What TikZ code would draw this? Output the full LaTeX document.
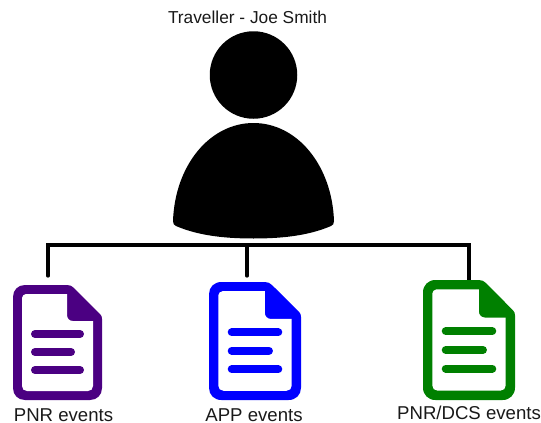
\documentclass[tikz,border=0pt]{standalone}
\usepackage{fontspec}
\setmainfont{Liberation Sans}
\definecolor{docpurple}{HTML}{4B0082}
\definecolor{docblue}{HTML}{0000FF}
\definecolor{docgreen}{HTML}{008000}
\tikzset{
  label text/.style={font=\fontsize{18.6pt}{20pt}\selectfont, text=black!90, inner sep=0pt, anchor=base},
  title text/.style={font=\fontsize{17.3pt}{20pt}\selectfont, text=black!90, inner sep=0pt, anchor=center},
  bus line/.style={draw=black, line width=3.3pt, line cap=round, line join=miter},
  doc row/.style={line width=8pt, line cap=round},
  silhouette/.style={fill=black, draw=none}
}
% #1 left, #2 top, #3 right, #4 bottom, #5 colour
\newcommand{\docicon}[5]{%
  \pgfmathsetmacro{\W}{#3-#1}
  \pgfmathsetmacro{\H}{#4-#2}
  \begin{scope}[shift={(#1,#2)}, x={(\W pt/89,0pt)}, y={(0pt,-\H pt/115)}]
    \fill[#5] (12,0) -- (54,0)
      .. controls (57,0) and (59,1) .. (61,3) -- (87,29)
      .. controls (88.5,30.5) and (89,32) .. (89,34)
      -- (89,103) .. controls (89,110) and (84,115) .. (77,115)
      -- (12,115) .. controls (5,115) and (0,110) .. (0,103)
      -- (0,12) .. controls (0,5) and (5,0) .. (12,0) -- cycle;
    \fill[white] (13,9) -- (54,9) -- (54,30)
      .. controls (54,33.5) and (56.5,36) .. (60,36)
      -- (80,36) -- (80,101)
      .. controls (80,104) and (78,106) .. (75,106)
      -- (14,106) .. controls (11,106) and (9,104) .. (9,101)
      -- (9,13) .. controls (9,11) and (11,9) .. (13,9) -- cycle;
    \draw[doc row, #5] (22,49) -- (67,49);
    \draw[doc row, #5] (22,67) -- (58,67);
    \draw[doc row, #5] (22,85) -- (67,85);
  \end{scope}
}
\begin{document}
\begin{tikzpicture}[x=1pt,y=-1pt]
  \useasboundingbox (0,0) rectangle (541,423);
  \coordinate (pnrtop) at (48,276);
  \coordinate (apptop) at (247,276);
  \coordinate (dcstop) at (469,283);
  \coordinate (bus) at (247,245);
  \draw[bus line] (pnrtop) |- (bus) -| (dcstop);
  \draw[bus line] (apptop) -- (bus);
  % person
  \node[silhouette, circle, minimum size=87.5pt, inner sep=0pt] (head) at (253.5,75) {};
  \path[silhouette] (173,221)
    .. controls (175,165) and (210,123) .. (253.5,123)
    .. controls (297,123) and (332,165) .. (334,221)
    .. controls (334,224) and (333,225) .. (331,226)
    .. controls (310,235) and (285,238.5) .. (253.5,238.5)
    .. controls (222,238.5) and (197,235) .. (176,226)
    .. controls (174,225) and (173,224) .. (173,221) -- cycle;
  % documents
  \docicon{13}{285}{102}{400}{docpurple}
  \docicon{209}{282}{301}{400}{docblue}
  \docicon{423}{280}{515}{400}{docgreen}
  % labels
  \node[title text] (travellerlabel) at (247.5,17) {Traveller - Joe Smith};
  \node[label text] (pnrlabel) at (63.5,421) {PNR events};
  \node[label text] (applabel) at (254,421) {APP events};
  \node[label text] (dcslabel) at (469,419) {PNR/DCS events};
\end{tikzpicture}
\end{document}
